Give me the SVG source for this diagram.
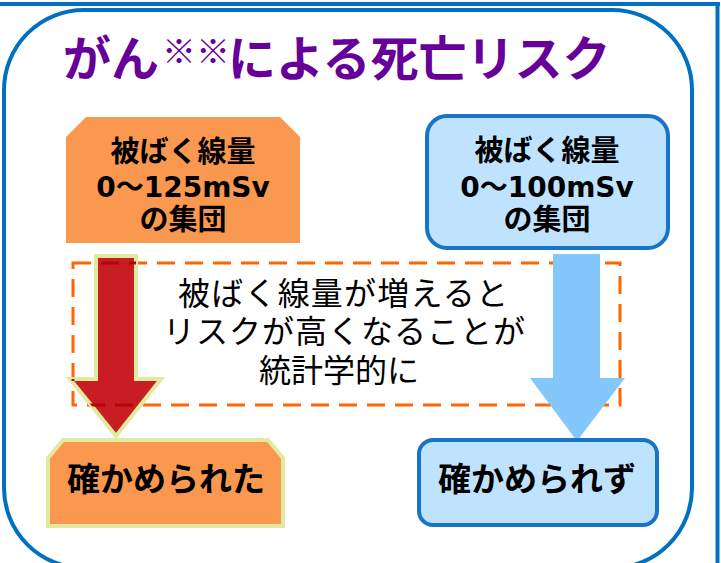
<svg xmlns="http://www.w3.org/2000/svg" width="721" height="563" viewBox="0 0 721 563">
  <defs>
    <style>
      .frame { fill: none; stroke: #0070C0; stroke-width: 4; }
      .title { font-family: "Noto Sans CJK JP", sans-serif; font-weight: bold; fill: #660099; }
      .bx { font-family: "DejaVu Sans", "Noto Sans CJK JP", sans-serif; font-weight: bold; fill: #000; text-anchor: middle; }
      .note { font-family: "Noto Sans CJK JP", sans-serif; font-size: 32px; fill: #000; text-anchor: middle; }
      .orange { fill: #FA9850; }
      .blue { fill: #BFE3FF; stroke: #1874C4; stroke-width: 4; }
      .dash { fill: none; stroke-width: 3; stroke-dasharray: 18 10; }
    </style>
    <clipPath id="redArrowClip">
      <polygon points="96,256 136,256 136,379 161,379 116,436 70,379 96,379"/>
    </clipPath>
  </defs>
  <rect width="721" height="563" fill="#FFFFFF"/>
  <!-- outer frame -->
  <line x1="0" y1="4" x2="720" y2="4" class="frame"/>
  <line x1="717.5" y1="4" x2="717.5" y2="563" class="frame" stroke-width="3"/>
  <rect x="4" y="10" width="688" height="558" rx="80" ry="80" class="frame"/>

  <g id="title">
    <text x="63" y="76" class="title" font-size="48">がん</text>
    <text x="162" y="64" class="title" font-size="34">※※</text>
    <text x="228" y="76" class="title" font-size="48">による死亡リスク</text>
  </g>

  <g id="group-125">
    <polygon points="66,137 86,117 280,117 300,137 300,243 66,243" class="orange"/>
    <text x="183" y="162" class="bx" font-size="29">被ばく線量</text>
    <text x="183" y="197" class="bx" font-size="28">0〜125mSv</text>
    <text x="183" y="230" class="bx" font-size="29">の集団</text>
  </g>

  <g id="group-100">
    <rect x="427" y="116" width="241" height="132" rx="20" ry="20" class="blue"/>
    <text x="547" y="161" class="bx" font-size="29">被ばく線量</text>
    <text x="547" y="197" class="bx" font-size="28">0〜100mSv</text>
    <text x="547" y="230" class="bx" font-size="29">の集団</text>
  </g>

  <g id="note">
    <rect x="73" y="263" width="547" height="142" class="dash" stroke="#FF6600"/>
    <text x="343" y="305" class="note" textLength="330" lengthAdjust="spacing">被ばく線量が増えると</text>
    <text x="344" y="343" class="note" textLength="362" lengthAdjust="spacing">リスクが高くなることが</text>
    <text x="339" y="382" class="note">統計学的に</text>
  </g>

  <g id="connectors">
    <polygon points="96,256 136,256 136,379 161,379 116,436 70,379 96,379" fill="#C81D22" stroke="#E2EAA0" stroke-width="4" stroke-linejoin="miter"/>
    <rect x="73" y="263" width="547" height="142" class="dash" stroke="#B00808" clip-path="url(#redArrowClip)"/>
    <polygon points="553,254 600,254 600,378 625,378 577,441 530,378 553,378" fill="#83C7FB"/>
  </g>

  <g id="confirmed">
    <polygon points="48,458 63,440 268,440 283,458 283,526 48,526" class="orange" stroke="#E2EAA0" stroke-width="4"/>
    <text x="166" y="491" class="bx" font-size="33">確かめられた</text>
  </g>

  <g id="not-confirmed">
    <rect x="419" y="440" width="238" height="85" rx="14" ry="14" class="blue"/>
    <text x="537" y="491" class="bx" font-size="33">確かめられず</text>
  </g>
</svg>
